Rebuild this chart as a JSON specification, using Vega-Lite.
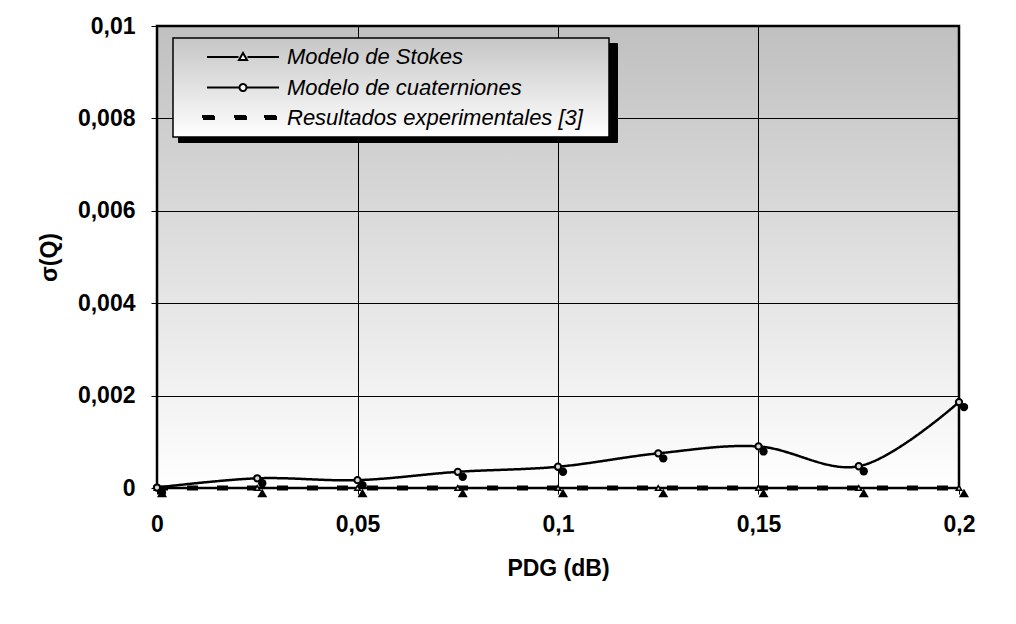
{
  "$schema": "https://vega.github.io/schema/vega-lite/v6.json",
  "width": 802,
  "height": 462,
  "autosize": {"type": "none"},
  "padding": {"left": 157, "top": 26, "right": 57, "bottom": 136},
  "background": "#ffffff",
  "config": {"font": "Liberation Sans"},
  "view": {
    "fill": {
      "gradient": "linear",
      "x1": 0, "y1": 0, "x2": 0, "y2": 1,
      "stops": [{"offset": 0, "color": "#c0c0c0"}, {"offset": 1, "color": "#ffffff"}]
    },
    "stroke": "#000000",
    "strokeWidth": 2.5
  },
  "data": {
    "values": [
      {"serie": "Modelo de Stokes", "pdg": 0, "sigma": 0},
      {"serie": "Modelo de Stokes", "pdg": 0.025, "sigma": 0},
      {"serie": "Modelo de Stokes", "pdg": 0.05, "sigma": 0},
      {"serie": "Modelo de Stokes", "pdg": 0.075, "sigma": 0},
      {"serie": "Modelo de Stokes", "pdg": 0.1, "sigma": 0},
      {"serie": "Modelo de Stokes", "pdg": 0.125, "sigma": 0},
      {"serie": "Modelo de Stokes", "pdg": 0.15, "sigma": 0},
      {"serie": "Modelo de Stokes", "pdg": 0.175, "sigma": 0},
      {"serie": "Modelo de Stokes", "pdg": 0.2, "sigma": 0},
      {"serie": "Modelo de cuaterniones", "pdg": 0, "sigma": 0.00001},
      {"serie": "Modelo de cuaterniones", "pdg": 0.025, "sigma": 0.00021},
      {"serie": "Modelo de cuaterniones", "pdg": 0.05, "sigma": 0.00017},
      {"serie": "Modelo de cuaterniones", "pdg": 0.075, "sigma": 0.00035},
      {"serie": "Modelo de cuaterniones", "pdg": 0.1, "sigma": 0.00046},
      {"serie": "Modelo de cuaterniones", "pdg": 0.125, "sigma": 0.00075},
      {"serie": "Modelo de cuaterniones", "pdg": 0.15, "sigma": 0.0009},
      {"serie": "Modelo de cuaterniones", "pdg": 0.175, "sigma": 0.00047},
      {"serie": "Modelo de cuaterniones", "pdg": 0.2, "sigma": 0.00186},
      {"serie": "Resultados experimentales [3]", "pdg": 0, "sigma": 0},
      {"serie": "Resultados experimentales [3]", "pdg": 0.05, "sigma": 0},
      {"serie": "Resultados experimentales [3]", "pdg": 0.1, "sigma": 0},
      {"serie": "Resultados experimentales [3]", "pdg": 0.15, "sigma": 0},
      {"serie": "Resultados experimentales [3]", "pdg": 0.2, "sigma": 0}
    ]
  },
  "encoding": {
    "x": {
      "field": "pdg",
      "type": "quantitative",
      "scale": {"domain": [0, 0.2], "nice": false, "zero": false},
      "axis": {
        "values": [0, 0.05, 0.1, 0.15, 0.2],
        "labelExpr": "replace(format(datum.value, '~g'), '.', ',')",
        "title": "PDG (dB)",
        "grid": true,
        "gridColor": "#000000",
        "gridWidth": 1,
        "domain": false,
        "ticks": true,
        "tickColor": "#000000",
        "tickSize": 6,
        "labelFlush": false,
        "labelOverlap": false,
        "labelBound": false,
        "labelFontSize": 23,
        "labelFontWeight": "bold",
        "labelColor": "#000000",
        "labelPadding": 19,
        "titleFontSize": 23,
        "titleFontWeight": "bold",
        "titleColor": "#000000",
        "titlePadding": 21
      }
    },
    "y": {
      "field": "sigma",
      "type": "quantitative",
      "scale": {"domain": [0, 0.01], "nice": false},
      "axis": {
        "values": [0, 0.002, 0.004, 0.006, 0.008, 0.01],
        "labelExpr": "replace(format(datum.value, '~g'), '.', ',')",
        "title": "σ(Q)",
        "grid": true,
        "gridColor": "#000000",
        "gridWidth": 1,
        "domain": false,
        "ticks": true,
        "tickColor": "#000000",
        "tickSize": 6,
        "labelFlush": false,
        "labelOverlap": false,
        "labelBound": false,
        "labelFontSize": 23,
        "labelFontWeight": "bold",
        "labelColor": "#000000",
        "labelPadding": 16,
        "titleFontSize": 23,
        "titleFontWeight": "bold",
        "titleColor": "#000000",
        "titlePadding": 16
      }
    }
  },
  "layer": [
    {
      "transform": [{"filter": "datum.serie === 'Modelo de Stokes'"}],
      "mark": {"type": "line", "color": "#000000", "strokeWidth": 2},
      "encoding": {
        "strokeDash": {
          "field": "serie",
          "type": "nominal",
          "scale": {
            "domain": ["Modelo de Stokes", "Modelo de cuaterniones", "Resultados experimentales [3]"],
            "range": [[1, 0], [1, 0], [11, 19]]
          },
          "legend": {
            "title": null,
            "orient": "none",
            "legendX": 16,
            "legendY": 12,
            "zindex": 2,
            "direction": "vertical",
            "padding": 8,
            "rowPadding": 8.5,
            "symbolSize": 400,
            "symbolStrokeWidth": 2,
            "symbolStrokeColor": "#000000",
            "symbolOffset": 51,
            "labelOffset": 33,
            "labelFontSize": 22,
            "labelFontStyle": "italic",
            "labelColor": "#000000",
            "labelLimit": 400,
            "strokeColor": "#000000",
            "fillColor": "#e4e4e4",
            "encode": {
              "legend": {
                "update": {
                  "fill": {"value": {
                    "gradient": "linear",
                    "x1": 0, "y1": 0, "x2": 0, "y2": 1,
                    "stops": [{"offset": 0, "color": "#c6c6c6"}, {"offset": 1, "color": "#ffffff"}]
                  }},
                  "strokeWidth": {"value": 1.5}
                }
              },
              "symbols": {
                "update": {
                  "shape": {"signal": "datum.value === 'Modelo de Stokes' ? 'M-3.6,0H-0.45M0.45,0H3.6M0,-0.4L0.4,0.3L-0.4,0.3ZM35.4,0' : datum.value === 'Modelo de cuaterniones' ? 'M-3.6,0H-0.35M0.35,0H3.6M0.35,0A0.35,0.35 0 1,1 -0.35,0A0.35,0.35 0 1,1 0.35,0ZM35.4,0' : 'M-4,-0.2H-2.8V0.2H-4ZM-0.8,-0.2H0.4V0.2H-0.8ZM2.2,-0.2H3.4V0.2H2.2ZM35.4,0'"},
                  "fill": {"signal": "datum.value === 'Resultados experimentales [3]' ? '#000000' : '#ffffff'"},
                  "stroke": {"value": "#000000"},
                  "strokeDash": {"value": [1, 0]},
                  "opacity": {"value": 1}
                }
              }
            }
          }
        }
      }
    },
    {
      "transform": [{"filter": "datum.serie === 'Modelo de cuaterniones'"}],
      "mark": {"type": "line", "color": "#000000", "strokeWidth": 2.5, "interpolate": "catmull-rom"},
      "encoding": {"strokeDash": {"field": "serie", "type": "nominal"}}
    },
    {
      "transform": [{"filter": "datum.serie === 'Resultados experimentales [3]'"}],
      "mark": {"type": "line", "color": "#000000", "strokeWidth": 5, "strokeCap": "butt"},
      "encoding": {"strokeDash": {"field": "serie", "type": "nominal"}}
    },
    {
      "transform": [{"filter": "datum.serie === 'Modelo de Stokes'"}],
      "mark": {"type": "point", "shape": "triangle-up", "filled": true, "opacity": 1, "size": 100, "xOffset": 5, "yOffset": 5},
      "encoding": {
        "color": {
          "field": "serie",
          "type": "nominal",
          "scale": {
            "domain": ["Modelo de cuaterniones", "Modelo de Stokes", "Resultados experimentales [3]"],
            "range": ["#000000", "#000000", "#000000"]
          },
          "legend": {
            "title": null,
            "orient": "none",
            "legendX": 21,
            "legendY": 17,
            "zindex": 0,
            "direction": "vertical",
            "padding": 8,
            "rowPadding": 8.5,
            "labelOffset": 105,
            "labelFontSize": 22,
            "labelFontStyle": "italic",
            "labelColor": "#000000",
            "labelLimit": 400,
            "strokeColor": "#000000",
            "fillColor": "#000000"
          }
        }
      }
    },
    {
      "transform": [{"filter": "datum.serie === 'Modelo de Stokes'"}],
      "mark": {"type": "point", "shape": "triangle-up", "fill": "#e8e8e8", "stroke": "#000000", "strokeWidth": 1.5, "opacity": 1, "size": 30}
    },
    {
      "transform": [{"filter": "datum.serie === 'Modelo de cuaterniones'"}],
      "mark": {"type": "point", "shape": "circle", "filled": true, "color": "#000000", "opacity": 1, "size": 70, "xOffset": 5, "yOffset": 5}
    },
    {
      "transform": [{"filter": "datum.serie === 'Modelo de cuaterniones'"}],
      "mark": {"type": "point", "shape": "circle", "fill": "#d8d8d8", "stroke": "#000000", "strokeWidth": 2, "opacity": 1, "size": 40}
    }
  ]
}
